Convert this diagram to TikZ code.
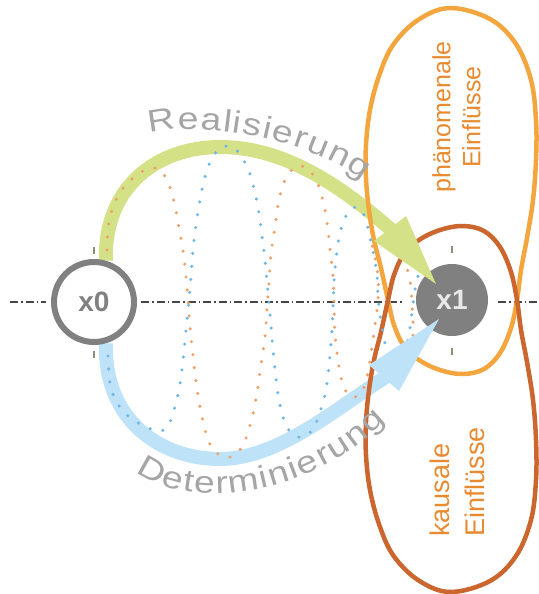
\documentclass[tikz,border=0pt]{standalone}
\usepackage{fontspec}
\setmainfont{Liberation Sans}
\newfontfamily\widesans[FakeStretch=1.2]{Liberation Sans}
\usetikzlibrary{decorations.text}
\definecolor{nodegray}{RGB}{128,128,128}
\definecolor{xonetext}{RGB}{232,232,232}
\definecolor{axisgray}{RGB}{70,70,70}
\definecolor{tickgray}{RGB}{140,145,120}
\definecolor{greenband}{RGB}{213,225,135}
\definecolor{blueband}{RGB}{190,226,247}
\definecolor{looporange}{RGB}{243,165,62}
\definecolor{loopbrown}{RGB}{202,102,46}
\definecolor{labelorange}{RGB}{232,138,48}
\definecolor{arcgray}{RGB}{165,165,165}
\definecolor{dotorange}{RGB}{238,160,105}
\definecolor{dotblue}{RGB}{110,182,230}
\pgfdeclarelayer{bglayer}
\pgfdeclarelayer{axislayer}
\pgfdeclarelayer{bandlayer}
\pgfdeclarelayer{curvelayer}
\pgfdeclarelayer{dotlayer}
\pgfdeclarelayer{nodelayer}
\pgfdeclarelayer{headlayer}
\pgfsetlayers{bglayer,axislayer,bandlayer,curvelayer,dotlayer,nodelayer,headlayer,main}
\begin{document}
\begin{tikzpicture}[x=1pt,y=-1pt,
  axisline/.style={line width=1.1pt, draw=axisgray, dash pattern=on 8pt off 3pt on 1.5pt off 3pt},
  band/.style={line width=14pt},
  loopline/.style={line width=4.5pt, line join=round},
  dotline/.style={line width=3.4pt, line cap=round, dash pattern=on 0pt off 13pt},
  tickline/.style={line width=1.3pt, draw=tickgray},
  lbl/.style={text=labelorange, rotate=90, inner sep=0pt},
  nodefont/.style={font=\bfseries\fontsize{28}{32}\selectfont}
]
\useasboundingbox (0,0) rectangle (538,594);
\begin{pgfonlayer}{bglayer}
\fill[white] (0,0) rectangle (538,594);
\end{pgfonlayer}

% nodes
\begin{pgfonlayer}{nodelayer}
\node[circle, draw=nodegray, line width=6pt, fill=white, minimum size=80pt, inner sep=0pt, nodefont, text=nodegray] (x0) at (94,302) {x0};
\node[circle, fill=nodegray, minimum size=72pt, inner sep=0pt, nodefont, text=xonetext] (x1) at (452,300) {x1};
\draw[tickline] ([yshift=5pt]x0.north) -- ([yshift=12pt]x0.north);
\draw[tickline] ([yshift=-6pt]x0.south) -- ([yshift=-13pt]x0.south);
\draw[tickline] ([yshift=11pt]x1.north) -- ([yshift=18pt]x1.north);
\draw[tickline] ([yshift=-12pt]x1.south) -- ([yshift=-19pt]x1.south);
\end{pgfonlayer}

% axis
\coordinate (axL) at (10,302);
\coordinate (axA) at (46,302);
\coordinate (axB) at (141,302);
\coordinate (axC) at (404,302);
\coordinate (axD) at (498,302);
\coordinate (axR) at (537,302);
\begin{pgfonlayer}{axislayer}
\draw[axisline] (axL) -- (axA);
\draw[axisline] (axB) -- (axC);
\draw[axisline] (axD) -- (axR);
\end{pgfonlayer}

% arrow geometry
\coordinate (gb) at (395,233);
\coordinate (gl) at (374,241);
\coordinate (gr) at (406,216);
\coordinate (gt) at (436,284);
\coordinate (bb) at (389,375);
\coordinate (bl) at (369,365);
\coordinate (br) at (399,391);
\coordinate (bt) at (439,319);

\begin{pgfonlayer}{bandlayer}
\draw[band, draw=greenband] (x0.74) .. controls (104,184) and (160,147) .. (220,147) .. controls (280,147) and (335,180) .. (gb);
\draw[band, draw=blueband] (x0.-74) .. controls (104,420) and (160,459) .. (220,459) .. controls (280,459) and (340,405) .. (bb);
\end{pgfonlayer}

\begin{pgfonlayer}{headlayer}
\fill[greenband] (gl) -- (gt) -- (gr) -- cycle;
\fill[blueband] (bl) -- (bt) -- (br) -- cycle;
\end{pgfonlayer}

% influence loops
\begin{pgfonlayer}{curvelayer}
\draw[loopline, draw=looporange] plot[smooth cycle, tension=0.6] coordinates {
(450,8) (490,19) (516,44) (531,80) (536,120) (536,160) (533,200) (527,238) (521,270) (517,300) (511,328) (500,353) (484,369) (463,374) (440,370) (419,360) (404,346) (394,325) (388,300) (381,268) (374,240) (369,210) (366,178) (366,145) (370,110) (379,76) (393,45) (418,20)};
\draw[loopline, draw=loopbrown] plot[smooth cycle, tension=0.6] coordinates {
(450,592) (490,581) (516,556) (531,520) (536,480) (536,440) (533,400) (527,362) (521,330) (517,300) (511,272) (500,247) (484,231) (463,226) (440,230) (419,240) (404,254) (394,275) (388,300) (381,332) (374,360) (369,390) (366,422) (366,455) (370,490) (379,524) (393,555) (418,580)};
\end{pgfonlayer}

% dotted waves
\begin{pgfonlayer}{dotlayer}
\draw[dotline, draw=dotorange] plot[smooth, tension=0.6] coordinates {
(107,250) (109,222) (119,194) (138,174) (156,168) (167,180) (174,202) (179,228) (184,258) (188,300) (190,327) (193,355) (196,382) (201,412) (208,440) (218,454) (230,457) (242,447) (251,422) (257,393) (261,365) (265,337) (267,309) (269,283) (271,254) (275,227) (279,200) (285,180) (295,167) (307,168) (316,180) (322,197) (327,222) (330,249) (333,277) (334,303) (335,333) (338,360) (343,385) (351,397) (361,393) (367,377) (371,353) (375,325) (378,300) (378,278) (375,258) (370,238)};
\draw[dotline, draw=dotblue] plot[smooth, tension=0.6] coordinates {
(108,356) (111,388) (123,411) (142,425) (159,431) (168,426) (173,413) (177,399) (180,384) (183,361) (185,340) (187,320) (189,300) (191,277) (193,250) (196,225) (200,200) (205,177) (212,158) (222,147) (234,148) (243,159) (250,174) (255,193) (259,213) (262,236) (265,260) (267,282) (269,303) (271,326) (273,350) (276,378) (279,400) (284,420) (292,434) (304,437) (314,427) (320,412) (325,395) (328,375) (330,355) (332,330) (333,307) (334,282) (336,259) (339,238) (344,220) (352,208) (360,209) (366,220) (370,238) (374,256) (377,275) (378,295) (380,315) (383,332) (386,350)};
\draw[dotline, draw=dotorange] plot[smooth, tension=0.6] coordinates {
(404,258) (408,272) (411,288) (412,305) (413,322) (413,336)};
\draw[dotline, draw=dotblue] plot[smooth, tension=0.6] coordinates {
(422,264) (417,280) (414,296) (412,312) (410,328) (407,343)};
\end{pgfonlayer}

% arc labels
\path[decorate, decoration={text along path, text={|\widesans\fontsize{31}{34}\selectfont\color{arcgray}|Realisierung}, text align={fit to path}}]
  (150,134) .. controls (188,121) and (301,134) .. (363,180);
\path[decorate, decoration={text along path, text={|\widesans\fontsize{31}{34}\selectfont\color{arcgray}|Determinierung}, text align={fit to path}}]
  (136,471) .. controls (176,505) and (292,510) .. (386,421);

% loop labels
\node[lbl, align=center, font=\fontsize{25}{30}\selectfont] (tphen) at (456.5,117) {phänomenale\\Einflüsse};
\node[lbl, align=left, anchor=west, font=\fontsize{27}{35}\selectfont] (tkaus) at (457.5,537) {kausale\\Einflüsse};
\end{tikzpicture}
\end{document}
